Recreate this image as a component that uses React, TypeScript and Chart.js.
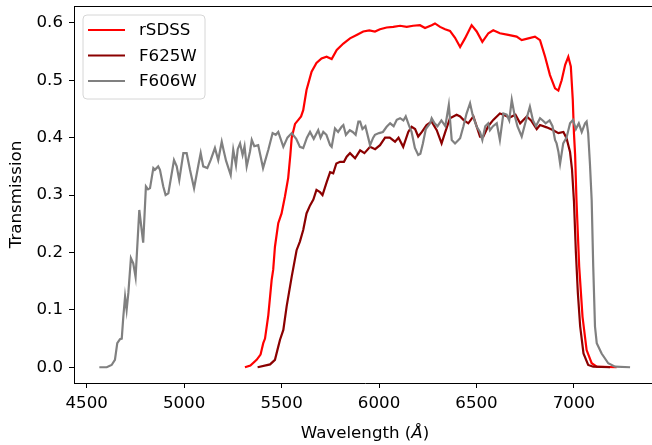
import React, { useEffect, useRef } from "react";
import { Chart, registerables } from "chart.js";

Chart.register(...registerables);

// ---- Data ----
const seriesLabels = ["rSDSS", "F625W", "F606W"];
const seriesColors = ["#ff0000", "#8b0000", "#808080"];

const rsdssWave = [5312, 5340, 5372, 5392, 5406, 5415, 5432, 5449, 5457, 5466, 5483, 5500, 5517, 5534, 5545, 5552, 5569, 5586, 5600, 5611, 5628, 5654, 5679, 5705, 5731, 5757, 5783, 5817, 5851, 5885, 5919, 5950, 5979, 6005, 6039, 6073, 6108, 6142, 6175, 6210, 6236, 6270, 6287, 6313, 6339, 6364, 6390, 6416, 6441, 6475, 6501, 6530, 6561, 6586, 6620, 6663, 6706, 6732, 6766, 6800, 6826, 6852, 6877, 6903, 6920, 6937, 6955, 6971, 6984, 6994, 7000, 7006, 7013, 7027, 7044, 7065, 7091, 7117, 7219];
const rsdssTrans = [0.000, 0.003, 0.013, 0.022, 0.042, 0.050, 0.091, 0.152, 0.170, 0.210, 0.251, 0.268, 0.297, 0.330, 0.370, 0.400, 0.424, 0.431, 0.437, 0.448, 0.483, 0.515, 0.530, 0.538, 0.541, 0.537, 0.553, 0.564, 0.573, 0.579, 0.585, 0.587, 0.585, 0.589, 0.592, 0.593, 0.595, 0.593, 0.595, 0.596, 0.591, 0.596, 0.599, 0.593, 0.589, 0.586, 0.574, 0.558, 0.573, 0.596, 0.585, 0.567, 0.582, 0.587, 0.582, 0.579, 0.576, 0.570, 0.573, 0.576, 0.570, 0.541, 0.509, 0.486, 0.482, 0.500, 0.527, 0.541, 0.524, 0.466, 0.408, 0.370, 0.291, 0.175, 0.088, 0.030, 0.007, 0.001, 0.000];

const f625Wave = [5377, 5441, 5466, 5483, 5492, 5509, 5526, 5552, 5577, 5594, 5611, 5628, 5646, 5663, 5679, 5697, 5710, 5731, 5749, 5765, 5781, 5800, 5820, 5834, 5851, 5877, 5903, 5925, 5954, 5980, 6005, 6031, 6055, 6082, 6100, 6124, 6150, 6167, 6185, 6201, 6220, 6244, 6270, 6296, 6321, 6340, 6364, 6398, 6416, 6433, 6458, 6484, 6518, 6535, 6560, 6586, 6620, 6638, 6670, 6700, 6724, 6758, 6780, 6809, 6826, 6860, 6894, 6920, 6946, 6962, 6980, 6990, 7000, 7010, 7020, 7032, 7049, 7073, 7099, 7185];
const f625Trans = [0.000, 0.005, 0.013, 0.036, 0.048, 0.065, 0.106, 0.158, 0.204, 0.219, 0.239, 0.268, 0.282, 0.292, 0.309, 0.305, 0.300, 0.322, 0.340, 0.338, 0.355, 0.358, 0.358, 0.367, 0.373, 0.364, 0.378, 0.373, 0.384, 0.380, 0.387, 0.400, 0.400, 0.393, 0.400, 0.384, 0.410, 0.419, 0.415, 0.402, 0.410, 0.422, 0.428, 0.413, 0.390, 0.410, 0.434, 0.440, 0.437, 0.431, 0.425, 0.437, 0.402, 0.402, 0.420, 0.431, 0.442, 0.440, 0.435, 0.440, 0.425, 0.437, 0.430, 0.415, 0.422, 0.418, 0.413, 0.408, 0.410, 0.399, 0.375, 0.345, 0.290, 0.200, 0.130, 0.071, 0.024, 0.004, 0.001, 0.000];

const f606Wave = [4565, 4603, 4628, 4645, 4657, 4671, 4680, 4688, 4697, 4705, 4714, 4727, 4739, 4751, 4770, 4790, 4804, 4815, 4825, 4842, 4850, 4867, 4876, 4893, 4905, 4919, 4948, 4962, 4975, 4996, 5013, 5030, 5051, 5073, 5085, 5098, 5119, 5136, 5158, 5175, 5193, 5204, 5215, 5239, 5252, 5266, 5275, 5287, 5300, 5310, 5321, 5338, 5347, 5360, 5380, 5405, 5432, 5454, 5470, 5483, 5509, 5530, 5552, 5575, 5594, 5611, 5630, 5646, 5665, 5688, 5700, 5714, 5730, 5749, 5757, 5774, 5790, 5808, 5817, 5830, 5850, 5865, 5880, 5894, 5903, 5915, 5930, 5954, 5970, 5979, 6000, 6020, 6039, 6057, 6075, 6091, 6108, 6125, 6137, 6155, 6167, 6184, 6201, 6212, 6225, 6240, 6262, 6270, 6285, 6300, 6320, 6340, 6358, 6373, 6390, 6405, 6416, 6433, 6449, 6467, 6480, 6501, 6518, 6530, 6545, 6560, 6569, 6585, 6604, 6620, 6638, 6655, 6668, 6681, 6695, 6710, 6732, 6750, 6774, 6790, 6805, 6826, 6840, 6855, 6875, 6890, 6903, 6911, 6920, 6929, 6945, 6962, 6980, 6995, 7010, 7025, 7040, 7057, 7065, 7073, 7082, 7091, 7099, 7108, 7117, 7142, 7176, 7211, 7288];
const f606Trans = [0.000, 0.000, 0.004, 0.013, 0.042, 0.049, 0.050, 0.088, 0.123, 0.100, 0.130, 0.190, 0.181, 0.157, 0.274, 0.217, 0.315, 0.310, 0.312, 0.347, 0.344, 0.350, 0.344, 0.315, 0.300, 0.303, 0.361, 0.350, 0.326, 0.373, 0.373, 0.344, 0.312, 0.352, 0.373, 0.350, 0.347, 0.361, 0.382, 0.361, 0.393, 0.376, 0.360, 0.335, 0.379, 0.352, 0.380, 0.390, 0.370, 0.385, 0.350, 0.376, 0.396, 0.385, 0.387, 0.347, 0.379, 0.408, 0.405, 0.410, 0.384, 0.400, 0.408, 0.398, 0.384, 0.382, 0.400, 0.410, 0.398, 0.413, 0.400, 0.410, 0.405, 0.387, 0.384, 0.416, 0.410, 0.419, 0.422, 0.405, 0.413, 0.410, 0.405, 0.428, 0.428, 0.415, 0.420, 0.387, 0.400, 0.405, 0.408, 0.410, 0.419, 0.425, 0.420, 0.431, 0.434, 0.430, 0.437, 0.420, 0.410, 0.382, 0.370, 0.372, 0.390, 0.415, 0.425, 0.434, 0.425, 0.420, 0.430, 0.420, 0.457, 0.396, 0.390, 0.395, 0.399, 0.420, 0.442, 0.460, 0.440, 0.419, 0.410, 0.396, 0.420, 0.425, 0.413, 0.420, 0.425, 0.396, 0.442, 0.440, 0.430, 0.466, 0.440, 0.420, 0.402, 0.425, 0.454, 0.430, 0.420, 0.434, 0.430, 0.425, 0.430, 0.420, 0.396, 0.390, 0.376, 0.355, 0.390, 0.400, 0.425, 0.431, 0.415, 0.425, 0.410, 0.425, 0.428, 0.408, 0.355, 0.291, 0.175, 0.071, 0.042, 0.024, 0.007, 0.001, 0.000];

const xTickValues = [4500, 5000, 5500, 6000, 6500, 7000];
const yTickValues = [0.0, 0.1, 0.2, 0.3, 0.4, 0.5, 0.6];
const xAxisTitle = ["Wavelength (", "Å", ")"];
const yAxisTitle = "Transmission";

const FONT = "'DejaVu Sans', sans-serif";
const FS = 16.67;

const toPoints = (xs: number[], ys: number[]) => xs.map((x, i) => ({ x, y: ys[i] }));

const framePlugin = {
  id: "frameAndLegend",
  afterDatasetsDraw(chart: any) {
    const { ctx, chartArea } = chart;
    ctx.save();
    ctx.strokeStyle = "#000";
    ctx.lineWidth = 1;
    ctx.beginPath();
    ctx.moveTo(chartArea.left, chartArea.top + 0.5);
    ctx.lineTo(chartArea.right, chartArea.top + 0.5);
    ctx.moveTo(chartArea.right - 0.5, chartArea.top);
    ctx.lineTo(chartArea.right - 0.5, chartArea.bottom);
    ctx.stroke();

    // legend
    const bx = chartArea.left + 9, by = chartArea.top + 9, bw = 122, bh = 84, r = 4;
    ctx.beginPath();
    ctx.moveTo(bx + r, by);
    ctx.lineTo(bx + bw - r, by);
    ctx.quadraticCurveTo(bx + bw, by, bx + bw, by + r);
    ctx.lineTo(bx + bw, by + bh - r);
    ctx.quadraticCurveTo(bx + bw, by + bh, bx + bw - r, by + bh);
    ctx.lineTo(bx + r, by + bh);
    ctx.quadraticCurveTo(bx, by + bh, bx, by + bh - r);
    ctx.lineTo(bx, by + r);
    ctx.quadraticCurveTo(bx, by, bx + r, by);
    ctx.closePath();
    ctx.fillStyle = "rgba(255,255,255,0.8)";
    ctx.fill();
    ctx.strokeStyle = "#d6d6d6";
    ctx.lineWidth = 1;
    ctx.stroke();

    ctx.font = `${FS}px ${FONT}`;
    ctx.textBaseline = "middle";
    ctx.textAlign = "left";
    seriesLabels.forEach((lab, i) => {
      const ly = by + 15 + i * 25.5;
      ctx.strokeStyle = seriesColors[i];
      ctx.lineWidth = 2.2;
      ctx.beginPath();
      ctx.moveTo(bx + 5, ly);
      ctx.lineTo(bx + 42, ly);
      ctx.stroke();
      ctx.fillStyle = "#000";
      ctx.fillText(lab, bx + 56, ly + 1);
    });

    // x-axis title with italic Å
    const cx = (chartArea.left + chartArea.right) / 2;
    const ty = 434;
    const normal = `${FS}px ${FONT}`;
    const italic = `italic ${FS}px ${FONT}`;
    ctx.font = normal;
    const w0 = ctx.measureText(xAxisTitle[0]).width;
    const w2 = ctx.measureText(xAxisTitle[2]).width;
    ctx.font = italic;
    const w1 = ctx.measureText(xAxisTitle[1]).width;
    let x = cx - (w0 + w1 + w2) / 2;
    ctx.fillStyle = "#000";
    ctx.font = normal;
    ctx.fillText(xAxisTitle[0], x, ty);
    x += w0;
    ctx.font = italic;
    ctx.fillText(xAxisTitle[1], x, ty);
    x += w1;
    ctx.font = normal;
    ctx.fillText(xAxisTitle[2], x, ty);
    ctx.restore();
  },
};

export default function App() {
  const ref = useRef<HTMLCanvasElement>(null);
  useEffect(() => {
    if (!ref.current) return;
    const chart = new Chart(ref.current, {
      type: "line",
      data: {
        datasets: [
          { label: seriesLabels[0], data: toPoints(rsdssWave, rsdssTrans), borderColor: seriesColors[0], order: 3 },
          { label: seriesLabels[1], data: toPoints(f625Wave, f625Trans), borderColor: seriesColors[1], order: 2 },
          { label: seriesLabels[2], data: toPoints(f606Wave, f606Trans), borderColor: seriesColors[2], order: 1 },
        ],
      },
      options: {
        responsive: false,
        animation: false,
        devicePixelRatio: 1,
        layout: { padding: { left: 0, top: 6, right: 6, bottom: 0 } },
        elements: {
          point: { radius: 0 },
          line: { borderWidth: 2.2, tension: 0, fill: false },
        },
        plugins: { legend: { display: false }, tooltip: { enabled: false } },
        scales: {
          x: {
            type: "linear",
            min: 4435,
            max: 7421,
            afterBuildTicks: (s: any) => { s.ticks = xTickValues.map((v) => ({ value: v })); },
            afterFit: (s: any) => { s.height = 62; s.paddingLeft = 0; s.paddingRight = 0; },
            grid: { drawOnChartArea: false, drawTicks: true, tickLength: 5, color: "#000", tickWidth: 1 },
            border: { display: true, color: "#000", width: 1 },
            ticks: {
              maxRotation: 0,
              autoSkip: false,
              padding: 6,
              color: "#000",
              font: { family: FONT, size: FS },
              callback: (v: any) => String(v),
            },
          },
          y: {
            type: "linear",
            min: -0.0274,
            max: 0.6294,
            afterBuildTicks: (s: any) => { s.ticks = yTickValues.map((v) => ({ value: v })); },
            afterFit: (s: any) => { s.width = 74; s.paddingTop = 0; s.paddingBottom = 0; },
            grid: { drawOnChartArea: false, drawTicks: true, tickLength: 5, color: "#000", tickWidth: 1 },
            border: { display: true, color: "#000", width: 1 },
            title: {
              display: true,
              text: yAxisTitle,
              color: "#000",
              font: { family: FONT, size: FS },
              padding: { top: 7, bottom: 0 },
            },
            ticks: {
              padding: 6,
              color: "#000",
              font: { family: FONT, size: FS },
              callback: (v: any) => Number(v).toFixed(1),
            },
          },
        },
      },
      plugins: [framePlugin],
    });
    return () => chart.destroy();
  }, []);
  return (
    <div style={{ position: "fixed", left: 0, top: 0, width: 652, height: 445, overflow: "hidden", background: "#fff" }}>
      <canvas ref={ref} width={662} height={445} style={{ display: "block" }} />
    </div>
  );
}
